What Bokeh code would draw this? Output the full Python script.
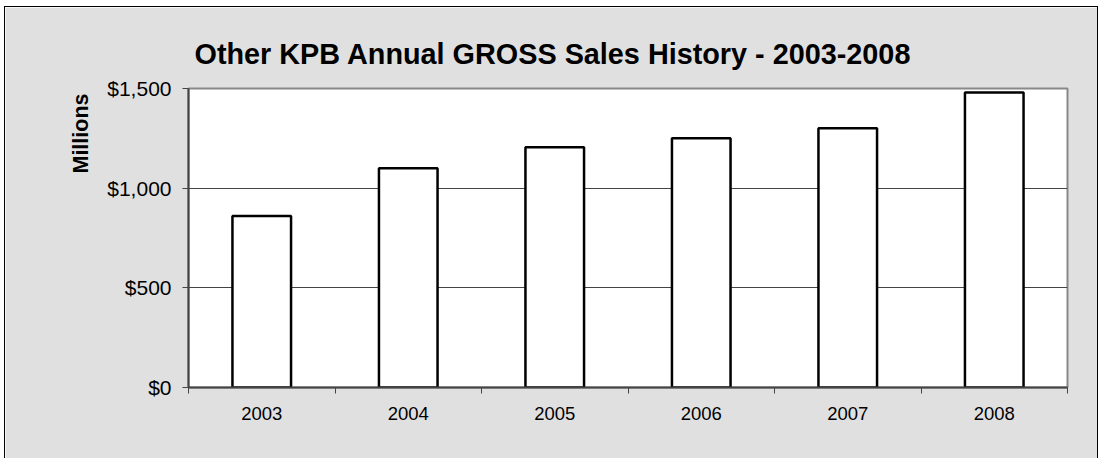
from bokeh.plotting import figure
from bokeh.models import Range1d, FixedTicker, NumeralTickFormatter, Title, ColumnDataSource
from bokeh.embed import file_html
from bokeh.resources import INLINE

years = ["2003", "2004", "2005", "2006", "2007", "2008"]
sales = [860, 1100, 1205, 1250, 1300, 1480]
y_ticks = [0, 500, 1000, 1500]

title_text = "Other KPB Annual GROSS Sales History - 2003-2008"
y_title = "Millions"

xs = [i + 0.5 for i in range(len(years))]
src = ColumnDataSource(dict(x=xs, top=sales, year=years))

p = figure(width=1094, height=452, output_backend="svg", toolbar_location=None,
           x_range=Range1d(0, len(years)), y_range=Range1d(0, 1500),
           min_border_left=183, min_border_right=32, min_border_top=81, min_border_bottom=72)
p.styles = {"border-left": "1px solid black", "border-top": "1px solid black",
            "border-right": "1px solid black", "margin-left": "4px", "margin-top": "6px"}
p.background_fill_color = "white"
p.border_fill_color = "#e0e0e0"
p.outline_line_color = "#888888"
p.outline_line_width = 2

p.vbar(x="x", top="top", width=0.4, source=src, fill_color="white",
       line_color="black", line_width=2.5)

# title
p.title.text = title_text
p.title.text_font = "Liberation Sans"
p.title.text_font_style = "bold"
p.title.text_font_size = "28.8px"
p.title.text_color = "black"
p.title.align = "left"
p.title.offset = 6
p.title.standoff = 34
p.title.vertical_align = "top"

# y axis
p.yaxis.ticker = FixedTicker(ticks=y_ticks)
p.yaxis.formatter = NumeralTickFormatter(format="$0,0")
p.yaxis.major_label_text_font = "Liberation Sans"
p.yaxis.major_label_text_font_size = "21px"
p.yaxis.major_label_text_color = "black"
p.yaxis.major_tick_out = 6
p.yaxis.major_tick_in = 0
p.yaxis.minor_tick_out = 0
p.yaxis.minor_tick_in = 0
p.yaxis.major_label_standoff = 11
p.yaxis.axis_line_color = "#444444"
p.yaxis.axis_line_width = 2
p.yaxis.major_tick_line_color = "#444444"

p.add_layout(Title(text=y_title, align="right", offset=5, standoff=23,
                   text_font="Liberation Sans", text_font_style="bold",
                   text_font_size="21.5px", text_color="black"), "left")

# x axis
p.xaxis.ticker = FixedTicker(ticks=xs, minor_ticks=list(range(len(years) + 1)))
p.xaxis.major_label_overrides = {x: y for x, y in zip(xs, years)}
p.xaxis.major_label_text_font = "Liberation Sans"
p.xaxis.major_label_text_font_size = "18.5px"
p.xaxis.major_label_text_color = "black"
p.xaxis.major_tick_out = 0
p.xaxis.major_tick_in = 0
p.xaxis.minor_tick_out = 6
p.xaxis.minor_tick_in = 0
p.xaxis.minor_tick_line_color = "#444444"
p.xaxis.major_label_standoff = 13
p.xaxis.axis_line_color = "#444444"
p.xaxis.axis_line_width = 2

p.xgrid.grid_line_color = None
p.ygrid.ticker = FixedTicker(ticks=[500, 1000])
p.ygrid.grid_line_color = "#444444"
p.ygrid.grid_line_width = 1

open("out.html", "w").write(file_html(p, INLINE))
